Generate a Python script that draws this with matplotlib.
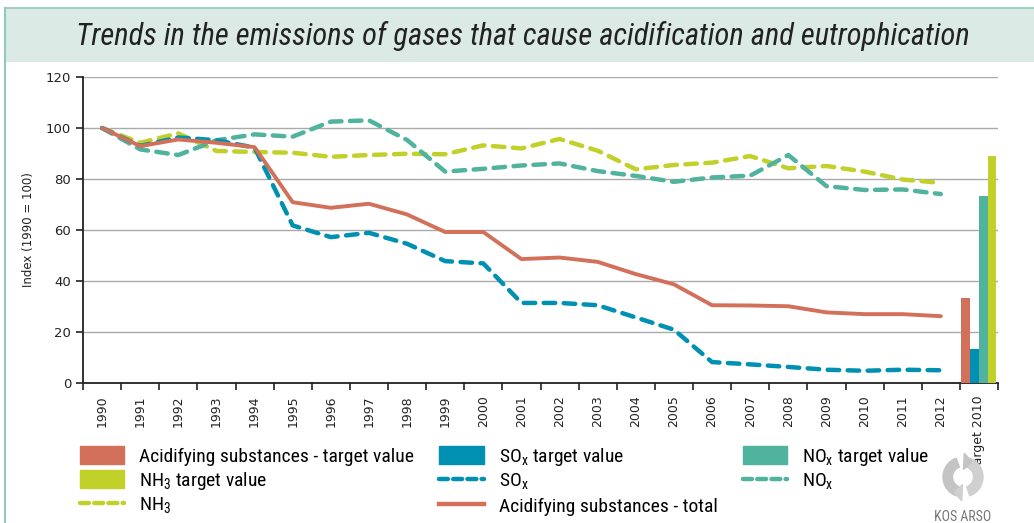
import matplotlib
matplotlib.use("Agg")
import matplotlib.pyplot as plt
from matplotlib.patches import Rectangle, Patch, Wedge, Polygon
from matplotlib.lines import Line2D
import numpy as np

years = [str(y) for y in range(1990, 2013)]
categories = years + ["Target 2010"]

acid_total = [100, 92.9, 95.5, 94.2, 92.5, 70.9, 68.7, 70.3, 66.1, 59.2, 59.2,
              48.6, 49.2, 47.5, 42.7, 38.7, 30.5, 30.4, 30.1, 27.7, 27.0, 27.0, 26.2]
sox = [100, 93.0, 96.3, 95.2, 92.3, 61.8, 57.2, 58.9, 54.6, 47.8, 46.9,
       31.4, 31.4, 30.5, 25.7, 20.9, 8.2, 7.3, 6.3, 5.2, 4.8, 5.2, 5.0]
nox = [100, 91.6, 89.4, 95.2, 97.5, 96.6, 102.5, 103.0, 95.3, 82.9, 84.0,
       85.3, 86.1, 83.1, 81.2, 78.9, 80.6, 81.3, 89.4, 77.2, 75.7, 75.9, 74.1]
nh3 = [100, 94.2, 97.9, 91.0, 90.6, 90.3, 88.7, 89.4, 89.9, 89.7, 93.2,
       92.0, 95.7, 91.1, 83.8, 85.5, 86.4, 89.0, 84.2, 85.1, 82.9, 79.8, 78.5]

target_names = ["Acidifying substances", "SOx", "NOx", "NH3"]
target_values = [33.5, 13.2, 73.3, 89.0]

c_acid = "#d2705a"
c_sox = "#0090b2"
c_nox = "#4fb39d"
c_nh3 = "#c2d02a"

# narrow font for title and legend
narrow = ["Liberation Sans Narrow", "Roboto Condensed", "Open Sans Condensed", "Lato", "DejaVu Sans"]

fig = plt.figure(figsize=(10.34, 5.23), dpi=100)

# title banner and frame
fig.patches.append(Rectangle((5 / 1034, 1 - 62 / 523), 1, 54 / 523, transform=fig.transFigure,
                             facecolor="#dceae6", edgecolor="none", zorder=0))
fig.add_artist(Line2D([5 / 1034, 1], [1 - 8 / 523] * 2, transform=fig.transFigure,
                      color="#8fcabc", lw=1.2))
fig.add_artist(Line2D([5 / 1034] * 2, [0, 1 - 8 / 523], transform=fig.transFigure,
                      color="#8fcabc", lw=1.5))
fig.text(0.506, 1 - 36 / 523,
         "Trends in the emissions of gases that cause acidification and eutrophication",
         ha="center", va="center", fontsize=22, style="italic", color="#222222",
         family=narrow)

ax = fig.add_axes([83 / 1034, 1 - 383 / 523, (998 - 83) / 1034, (383 - 77) / 523])

x = np.arange(len(years))
dash_kw = dict(lw=3.2, dashes=(2.6, 1.9), dash_capstyle="round", solid_capstyle="round")
ax.plot(x, nh3, color=c_nh3, **dash_kw, zorder=3)
ax.plot(x, nox, color=c_nox, **dash_kw, zorder=3)
ax.plot(x, sox, color=c_sox, **dash_kw, zorder=3)
ax.plot(x, acid_total, color=c_acid, lw=2.8, solid_capstyle="round", zorder=4)

# target bars in the last category
bw = 0.23
tx = len(years)
bar_colors = [c_acid, c_sox, c_nox, c_nh3]
for i, (v, c) in enumerate(zip(target_values, bar_colors)):
    ax.bar(tx + (i - 1.5) * bw, v, width=bw, color=c, zorder=3)

ax.set_xlim(-0.5, len(categories) - 0.5)
ax.set_ylim(0, 120)
ax.set_yticks(range(0, 121, 20))
ax.yaxis.grid(True, color="#aaaaaa", lw=1.0)
ax.set_axisbelow(True)

ax.set_xticks(np.arange(len(categories)))
ax.set_xticklabels(categories, rotation=90, fontsize=9, color="#222222")
ax.set_xticks(np.arange(len(categories) + 1) - 0.5, minor=True)
ax.tick_params(axis="x", which="major", length=0, pad=9)
ax.tick_params(axis="x", which="minor", length=5, width=1.2, color="#222222")
ax.tick_params(axis="y", length=5, width=1.2, labelsize=9.5, color="#222222", labelcolor="#222222")
for s in ["top", "right"]:
    ax.spines[s].set_visible(False)
for s in ["left", "bottom"]:
    ax.spines[s].set_color("#222222")
    ax.spines[s].set_linewidth(1.3)
ax.set_ylabel("Index (1990 = 100)", fontsize=8.5, color="#222222", labelpad=8)

# legend
lkw = dict(lw=3.2, dashes=(2.0, 1.2), dash_capstyle="round")
handles = [
    Patch(color=c_acid), Patch(color=c_nh3), Line2D([], [], color=c_nh3, **lkw),
    Patch(color=c_sox), Line2D([], [], color=c_sox, **lkw), Line2D([], [], color=c_acid, lw=3.2),
    Patch(color=c_nox), Line2D([], [], color=c_nox, **lkw),
]
labels = [
    "Acidifying substances - target value", r"NH$_\mathregular{3}$ target value", r"NH$_\mathregular{3}$",
    r"SO$_\mathregular{x}$ target value", r"SO$_\mathregular{x}$", "Acidifying substances - total",
    r"NO$_\mathregular{x}$ target value", r"NO$_\mathregular{x}$",
]
fig.legend(handles, labels, loc="upper left", bbox_to_anchor=(70 / 1034, 1 - 436 / 523),
           ncol=3, frameon=False, borderpad=0, handlelength=2.3, handleheight=1.0,
           handletextpad=0.75, columnspacing=1.3, labelspacing=0.2,
           prop=dict(family=narrow, size=14))

# small grey logo
lax = fig.add_axes([(963 - 25) / 1034, 1 - (477 + 25) / 523, 50 / 1034, 50 / 523])
lax.set_xlim(-1, 1)
lax.set_ylim(-1, 1)
lax.set_aspect("equal")
lax.axis("off")
lax.add_patch(Wedge((0, 0), 0.8, 110, 250, width=0.38, color="#c4c4c4"))
lax.add_patch(Wedge((0, 0), 0.8, 290, 430, width=0.38, color="#d0d0d0"))
lax.add_patch(Polygon([[0.05, 0.95], [0.35, 0.62], [0.02, 0.3]], color="#c4c4c4"))
lax.add_patch(Polygon([[-0.05, -0.95], [-0.35, -0.62], [-0.02, -0.3]], color="#d0d0d0"))

fig.text(963 / 1034, 1 - 517 / 523, "KOS ARSO", ha="center", va="center",
         fontsize=10, color="#777777", family=narrow)

fig.savefig("out.png", dpi=100)
